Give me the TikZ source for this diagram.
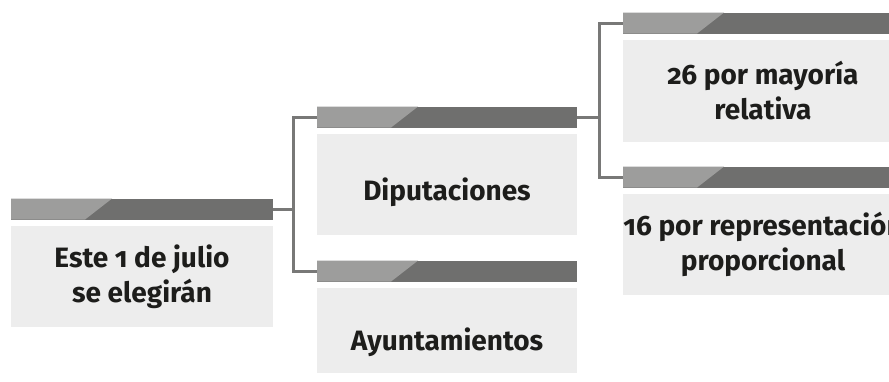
\documentclass[tikz,border=0pt]{standalone}
\usepackage{fontspec}
\setmainfont{Fira Sans}[Numbers=OldStyle]
\usetikzlibrary{positioning}
\definecolor{barraoscura}{HTML}{6F6F6E}
\definecolor{barraclara}{HTML}{9D9D9C}
\definecolor{fondocaja}{HTML}{EDEDED}
\definecolor{linea}{HTML}{787877}
\definecolor{texto}{HTML}{1D1D1B}
\newcommand{\barraAlto}[0]{21pt}
\newcommand{\separacion}[0]{6pt}
\newcommand{\grosorLinea}[0]{3pt}

\begin{document}
\begin{tikzpicture}[x=1pt, y=-1pt]
  \tikzset{caja/.style={fill=fondocaja, inner sep=0pt, align=center, text=texto,
      font=\fontsize{28}{35}\selectfont\bfseries},
    barra/.style={fill=barraoscura, minimum height=\barraAlto, inner sep=0pt,
      path picture={
        \fill[barraclara] (path picture bounding box.south west)
          -- (path picture bounding box.north west)
          -- ([xshift=101pt]path picture bounding box.north west)
          -- ([xshift=74pt]path picture bounding box.south west) -- cycle;}},
    conector/.style={draw=linea, line width=\grosorLinea}}
  \useasboundingbox (0,0) rectangle (889,382);
  % cajas
  \node[caja, minimum width=262pt, minimum height=101pt] (elegir) at (142,276.5) {Este 1 de julio\\se elegirán};
  \node[caja, minimum width=260pt, minimum height=101pt, text height=37pt, text depth=5pt] (diput) at (447,184.5) {Diputaciones};
  \node[caja, minimum width=260pt, minimum height=85pt, text height=45pt, text depth=5pt] (ayunt) at (447,330.5) {Ayuntamientos};
  \node[caja, minimum width=280pt, minimum height=102pt] (mayoria) at (763,91) {26 por mayoría\\relativa};
  \node[caja, minimum width=280pt, minimum height=101pt] (repre) at (763,244.5) {16 por representación\\proporcional};
  % barras
  \node[barra, minimum width=262pt, above=\separacion of elegir] (elegir-barra) {};
  \node[barra, minimum width=260pt, above=\separacion of diput] (diput-barra) {};
  \node[barra, minimum width=260pt, above=\separacion of ayunt] (ayunt-barra) {};
  \node[barra, minimum width=280pt, above=\separacion of mayoria] (mayoria-barra) {};
  \node[barra, minimum width=280pt, above=\separacion of repre] (repre-barra) {};
  % conectores
  \coordinate (elegir-codo) at ([xshift=20pt]elegir-barra.east);
  \coordinate (diput-codo) at ([xshift=22pt]diput-barra.east);
  \draw[conector] (elegir-barra.east) -- (elegir-codo) |- (diput-barra.west);
  \draw[conector] (elegir-codo) |- (ayunt-barra.west);
  \draw[conector] (diput-barra.east) -- (diput-codo) |- (mayoria-barra.west);
  \draw[conector] (diput-codo) |- (repre-barra.west);
\end{tikzpicture}
\end{document}
